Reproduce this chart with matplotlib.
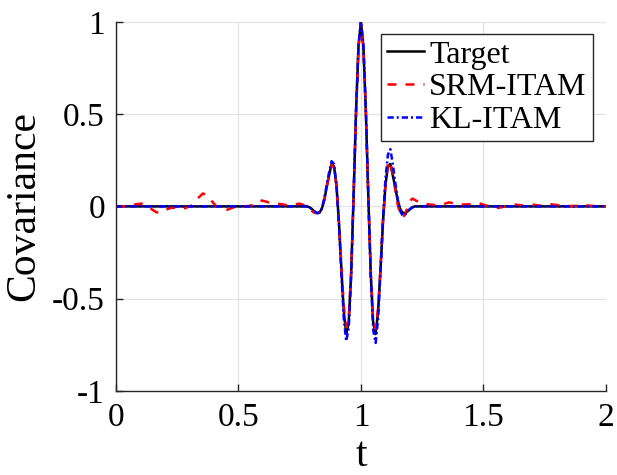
import matplotlib.pyplot as plt

plt.rcParams['font.family'] = ['Liberation Serif', 'DejaVu Serif']
plt.rcParams['mathtext.fontset'] = 'stix'

# time points around the central peak
t_core = [0.78, 0.79, 0.80, 0.81, 0.82, 0.83, 0.84, 0.85, 0.86, 0.87, 0.88,
          0.89, 0.90, 0.91, 0.92, 0.93, 0.94, 0.95, 0.96, 0.97, 0.98, 0.99,
          1.00, 1.01, 1.02, 1.03, 1.04, 1.05, 1.06, 1.07, 1.08, 1.09, 1.10,
          1.11, 1.12, 1.13, 1.14, 1.15, 1.16, 1.17, 1.18, 1.19, 1.20, 1.21, 1.22]

target_core = [0.0, -0.005, -0.015, -0.027, -0.036, -0.035, -0.014, 0.032, 0.103,
               0.168, 0.230, 0.217, 0.114, -0.083, -0.336, -0.570, -0.692, -0.630,
               -0.363, 0.057, 0.515, 0.867,
               1.0,
               0.867, 0.515, 0.057, -0.363, -0.630, -0.692, -0.570, -0.336, -0.083,
               0.114, 0.217, 0.230, 0.168, 0.103, 0.032, -0.014, -0.035, -0.036,
               -0.027, -0.015, -0.005, 0.0]

srm_core = [0.0, -0.01, -0.025, -0.035, -0.036, -0.03, -0.01, 0.035, 0.105,
            0.17, 0.225, 0.21, 0.11, -0.08, -0.32, -0.54, -0.655, -0.61,
            -0.355, 0.055, 0.51, 0.865,
            0.995,
            0.86, 0.51, 0.05, -0.36, -0.62, -0.665, -0.55, -0.33, -0.08,
            0.12, 0.23, 0.245, 0.17, 0.09, 0.01, -0.04, -0.06, -0.045,
            -0.005, 0.03, 0.042, 0.035]

kl_core = [0.0, -0.005, -0.015, -0.027, -0.036, -0.035, -0.012, 0.04, 0.115,
           0.185, 0.245, 0.23, 0.12, -0.09, -0.36, -0.61, -0.73, -0.66,
           -0.38, 0.06, 0.52, 0.875,
           1.005,
           0.875, 0.52, 0.06, -0.38, -0.67, -0.74, -0.61, -0.35, -0.07,
           0.15, 0.28, 0.31, 0.23, 0.13, 0.04, -0.025, -0.05, -0.045,
           -0.03, -0.015, -0.005, 0.0]

# SRM-ITAM ripples away from the peak
srm_left_t = [0.0, 0.03, 0.06, 0.085, 0.105, 0.125, 0.145, 0.165, 0.18, 0.20,
              0.225, 0.25, 0.28, 0.31, 0.335, 0.355, 0.37, 0.39, 0.41, 0.435,
              0.455, 0.48, 0.51, 0.54, 0.57, 0.595, 0.615, 0.64, 0.67, 0.70,
              0.725, 0.75, 0.765]
srm_left_y = [0.0, 0.0, 0.005, 0.012, 0.015, 0.005, -0.015, -0.032, -0.035, -0.02,
              -0.007, -0.008, -0.01, 0.005, 0.045, 0.07, 0.06, 0.03, 0.0, -0.012,
              -0.018, -0.005, 0.0, 0.002, 0.01, 0.032, 0.025, 0.015, 0.013, 0.006,
              0.01, 0.015, 0.008]
srm_right_t = [1.24, 1.27, 1.295, 1.32, 1.36, 1.39, 1.42, 1.45, 1.48, 1.51, 1.56,
               1.59, 1.63, 1.66, 1.70, 1.73, 1.77, 1.81, 1.85, 1.89, 1.92, 1.96, 2.0]
srm_right_y = [0.02, 0.012, 0.008, 0.005, 0.022, 0.012, 0.01, 0.012, 0.018, 0.005,
               -0.008, 0.0, 0.01, 0.005, 0.01, 0.004, 0.012, 0.006, 0.002, 0.003,
               0.005, 0.001, 0.0]

t_target = [0.0] + t_core + [2.0]
y_target = [0.0] + target_core + [0.0]
t_srm = srm_left_t + t_core + srm_right_t
y_srm = srm_left_y + srm_core + srm_right_y
y_kl = [0.0] + kl_core + [0.0]

fig = plt.figure(figsize=(6.17, 4.75), dpi=100)
ax = fig.add_axes([0.188, 0.177, 0.794, 0.777])

ax.plot(t_target, y_target, color='black', lw=1.8, label='Target')
ax.plot(t_srm, y_srm, color='red', lw=1.8, dashes=(3.6, 3.6), label='SRM-ITAM')
ax.plot(t_target, y_kl, color='blue', lw=1.8, dashes=(2.5, 1.2, 0.8, 1.2), label='KL-ITAM')

ax.set_xlim(0, 2)
ax.set_ylim(-1, 1)
ax.set_xticks([0, 0.5, 1, 1.5, 2])
ax.set_xticklabels(['0', '0.5', '1', '1.5', '2'])
ax.set_yticks([-1, -0.5, 0, 0.5, 1])
ax.set_yticklabels(['-1', '-0.5', '0', '0.5', '1'])
ax.grid(True, color='#e3e3e3', lw=0.9)
ax.set_axisbelow(True)
for s in ['top', 'right']:
    ax.spines[s].set_visible(False)
for s in ['left', 'bottom']:
    ax.spines[s].set_color('#262626')
    ax.spines[s].set_linewidth(1.0)
ax.tick_params(direction='in', length=5, width=1.0, labelsize=24, pad=8, colors='#262626')
ax.tick_params(labelcolor='black')

ax.set_xlabel('t', fontsize=30, labelpad=3)
ax.set_ylabel('Covariance', fontsize=30, labelpad=6)

leg = ax.legend(loc='upper right', bbox_to_anchor=(0.9735, 0.9675), borderaxespad=0,
                fontsize=23, handlelength=1.15, handletextpad=0.15, labelspacing=0.1,
                borderpad=0.2, fancybox=False, framealpha=1, edgecolor='#262626')
leg.get_frame().set_linewidth(1.0)

fig.savefig('out.png', dpi=100)
